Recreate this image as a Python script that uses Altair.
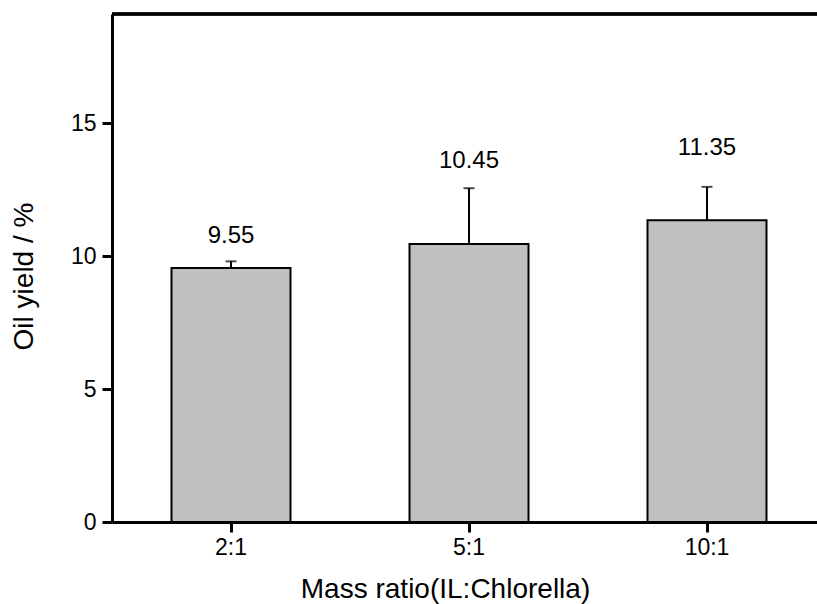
import altair as alt
import pandas as pd

ratios = ["2:1", "5:1", "10:1"]
yields = [9.55, 10.45, 11.35]
errors = [0.25, 2.1, 1.25]
label_pos = [10.74, 13.56, 14.05]
labels = ["9.55", "10.45", "11.35"]
y_ticks = [0, 5, 10, 15]

df = pd.DataFrame({"ratio": ratios, "yield": yields, "err": errors,
                   "label_pos": label_pos, "label": labels})
df["upper"] = df["yield"] + df["err"]

FONT = "Liberation Sans"
W, H = 705, 508

xscale = alt.Scale(domain=ratios, range=[0, 714], paddingInner=0.5, paddingOuter=0.25)
yscale = alt.Scale(domain=[0, 19.1], nice=False, zero=True)

xaxis = alt.Axis(title="Mass ratio(IL:Chlorella)", labelAngle=0)
yaxis = alt.Axis(title="Oil yield / %", values=y_ticks)

base = alt.Chart(df)
X = alt.X("ratio:N", sort=ratios, scale=xscale, axis=xaxis)

bars = base.mark_bar(color="#C0C0C0", stroke="black", strokeWidth=2).encode(
    x=X, y=alt.Y("yield:Q", scale=yscale, axis=yaxis))

err_line = base.mark_rule(color="black", strokeWidth=2).encode(
    x=X, y=alt.Y("yield:Q", scale=yscale, axis=yaxis), y2="upper:Q")

cap = base.mark_tick(color="black", thickness=2, size=11).encode(
    x=X, y=alt.Y("upper:Q", scale=yscale, axis=yaxis))

text = base.mark_text(font=FONT, fontSize=24, color="black", baseline="middle").encode(
    x=X, y=alt.Y("label_pos:Q", scale=yscale, axis=yaxis), text="label:N")

top_border = base.mark_rule(color="black", strokeWidth=3).encode(
    x=alt.value(0), x2=alt.value(W), y=alt.value(0), y2=alt.value(0))

chart = alt.layer(bars, err_line, cap, text, top_border).properties(
    width=W, height=H,
    autosize=alt.AutoSizeParams(type="none"),
    padding={"left": 112, "top": 14, "right": 0, "bottom": 82},
    background="white",
).configure_view(strokeWidth=0, stroke="white", strokeOpacity=0).configure_axis(
    labelFontSize=23, labelFont=FONT, labelColor="black", titleFont=FONT, titleFontSize=28,
    titleFontWeight="normal", titleColor="black", domainColor="black", domainWidth=3,
    tickColor="black", tickWidth=3, tickSize=10, grid=False,
).configure_axisX(
    labelPadding=4, titleX=333, titleY=67, titleBaseline="middle",
).configure_axisY(
    labelPadding=6, titleX=-88, titleY=262, titleBaseline="middle",
)

chart.save("out.html", embed_options={"renderer": "svg", "actions": False})
